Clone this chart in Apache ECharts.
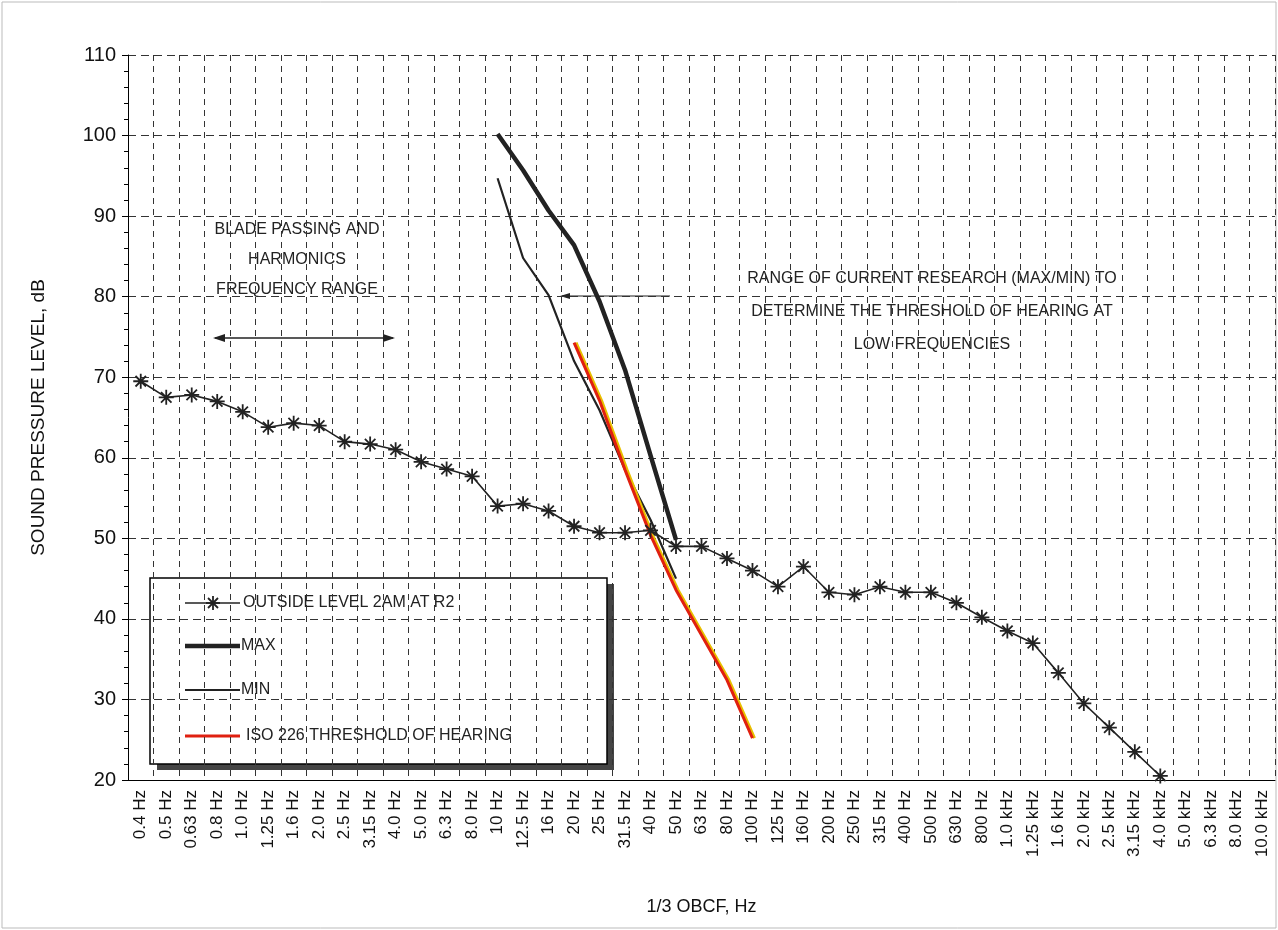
<!DOCTYPE html><html><head><meta charset="utf-8">
<script src="https://cdn.jsdelivr.net/npm/echarts@6/dist/echarts.min.js"></script>
<style>html,body{margin:0;background:#fff}#c{width:1278px;height:930px}</style></head><body><div id="c"></div>
<script>
const categories=["0.4 Hz","0.5 Hz","0.63 Hz","0.8 Hz","1.0 Hz","1.25 Hz","1.6 Hz","2.0 Hz","2.5 Hz","3.15 Hz","4.0 Hz","5.0 Hz","6.3 Hz","8.0 Hz","10 Hz","12.5 Hz","16 Hz","20 Hz","25 Hz","31.5 Hz","40 Hz","50 Hz","63 Hz","80 Hz","100 Hz","125 Hz","160 Hz","200 Hz","250 Hz","315 Hz","400 Hz","500 Hz","630 Hz","800 Hz","1.0 kHz","1.25 kHz","1.6 kHz","2.0 kHz","2.5 kHz","3.15 kHz","4.0 kHz","5.0 kHz","6.3 kHz","8.0 kHz","10.0 kHz"];
const outside=[69.5,67.5,67.8,67,65.7,63.8,64.3,64,62,61.7,61,59.5,58.6,57.7,54,54.3,53.4,51.5,50.7,50.7,51,49,49,47.5,46,44,46.5,43.3,43,44,43.3,43.3,42,40.2,38.5,37,33.3,29.5,26.5,23.5,20.5,17,null,null,null];
const maxV=[null,null,null,null,null,null,null,null,null,null,null,null,null,null,100.2,95.7,90.7,86.4,79.4,70.9,60.3,49.8];
const minV=[null,null,null,null,null,null,null,null,null,null,null,null,null,null,94.7,84.8,80.2,72,65.9,58.5,52.3,45];
const iso=[null,null,null,null,null,null,null,null,null,null,null,null,null,null,null,null,null,74.3,67.1,58.5,50.4,43.6,38,32.4,25.2];
const legendNames=['OUTSIDE LEVEL 2AM AT R2','MAX','MIN','ISO 226 THRESHOLD OF HEARING'];
const ch=echarts.init(document.getElementById('c'));
const F='Liberation Sans, Arial, sans-serif';
const star='path://M0,-1L0,1M-1,0L1,0M-0.7,-0.7L0.7,0.7M-0.7,0.7L0.7,-0.7';
const seg=(x1,y1,x2,y2,c,w)=>({type:'line',shape:{x1,y1,x2,y2},style:{stroke:c,lineWidth:w}});
ch.setOption({
 animation:false,
 grid:{left:128,right:3,top:55,bottom:150},
 xAxis:{type:'category',data:categories,boundaryGap:true,
  axisLine:{lineStyle:{color:'#000'}},axisTick:{show:false},
  axisLabel:{rotate:90,interval:0,color:'#111',fontFamily:F,fontSize:17,margin:10},
  splitLine:{show:true,interval:0,lineStyle:{color:'#333',type:[6,5],width:1}},
  name:'1/3 OBCF, Hz',nameLocation:'middle',nameGap:118,nameTextStyle:{fontFamily:F,fontSize:18,color:'#111'}},
 yAxis:{type:'value',min:20,max:110,interval:10,
  axisLine:{show:true,lineStyle:{color:'#000'}},axisTick:{show:true,length:6,lineStyle:{color:'#000'}},
  minorTick:{show:true,splitNumber:5,length:4,lineStyle:{color:'#000'}},
  axisLabel:{color:'#111',fontFamily:F,fontSize:20,margin:12},
  splitLine:{lineStyle:{color:'#333',type:[8,5],width:1}},
  name:'SOUND PRESSURE LEVEL, dB',nameLocation:'middle',nameGap:80,nameTextStyle:{fontFamily:F,fontSize:19,color:'#111'}},
 series:[
  {name:legendNames[0],type:'line',data:outside,symbol:star,symbolSize:15,showAllSymbol:true,
   itemStyle:{color:'#222',borderColor:'#222',borderWidth:1.8},lineStyle:{color:'#222',width:1.6}},
  {name:legendNames[1],type:'line',data:maxV,symbol:'none',lineStyle:{color:'#222',width:4.5}},
  {name:legendNames[2],type:'line',data:minV,symbol:'none',lineStyle:{color:'#222',width:2.2}},
  {name:legendNames[3],type:'line',data:iso,symbol:'none',lineStyle:{color:'#e02010',width:3,shadowColor:'#e8c000',shadowOffsetX:2,shadowBlur:0}}
 ],
 graphic:[
  {type:'rect',shape:{x:2,y:2,width:1274,height:926},style:{fill:'none',stroke:'#bbb',lineWidth:1}},
  {type:'text',style:{text:'BLADE PASSING AND\nHARMONICS\nFREQUENCY RANGE',x:297,y:215,textAlign:'center',font:'16px '+F,fill:'#222',lineHeight:30}},
  seg(215,338,393,338,'#222',1.5),
  {type:'polygon',shape:{points:[[213,338],[225,334],[225,342]]},style:{fill:'#222'}},
  {type:'polygon',shape:{points:[[395,338],[383,334],[383,342]]},style:{fill:'#222'}},
  {type:'text',style:{text:'RANGE OF CURRENT RESEARCH (MAX/MIN) TO\nDETERMINE THE THRESHOLD OF HEARING AT\nLOW FREQUENCIES',x:932,y:262,textAlign:'center',font:'16px '+F,fill:'#222',lineHeight:33}},
  seg(562,296,670,296,'#222',1.2),
  {type:'polygon',shape:{points:[[560,296],[570,293],[570,299]]},style:{fill:'#222'}},
  {type:'rect',shape:{x:157,y:584,width:457,height:186},style:{fill:'#444'}},
  {type:'rect',shape:{x:150,y:578,width:457,height:186},style:{fill:'#fff',stroke:'#000',lineWidth:1.5}},
  seg(185,603,240,603,'#222',1.6),
  seg(213,596,213,610,'#222',1.8),seg(206,603,220,603,'#222',1.8),seg(208,598,218,608,'#222',1.8),seg(208,608,218,598,'#222',1.8),
  {type:'text',style:{text:legendNames[0],x:243,y:603,textVerticalAlign:'middle',font:'16px '+F,fill:'#222'}},
  seg(185,646,240,646,'#222',4.5),
  {type:'text',style:{text:legendNames[1],x:241,y:646,textVerticalAlign:'middle',font:'16px '+F,fill:'#222'}},
  seg(185,690,240,690,'#222',2.2),
  {type:'text',style:{text:legendNames[2],x:241,y:690,textVerticalAlign:'middle',font:'16px '+F,fill:'#222'}},
  seg(185,736,240,736,'#e02010',3),
  {type:'text',style:{text:legendNames[3],x:246,y:736,textVerticalAlign:'middle',font:'16px '+F,fill:'#222'}}
 ]
});
</script></body></html>
